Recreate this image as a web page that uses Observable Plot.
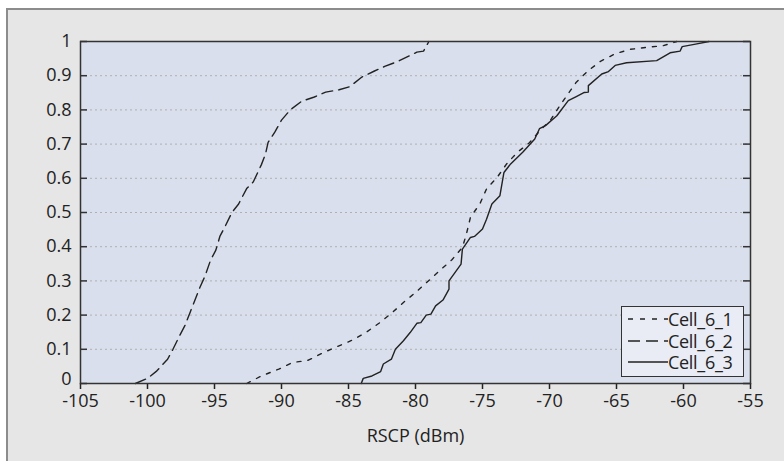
<!DOCTYPE html>
<html><head><meta charset="utf-8">
<script src="https://cdn.jsdelivr.net/npm/d3@7"></script>
<script src="https://cdn.jsdelivr.net/npm/@observablehq/plot@0.6"></script>
<style>
body{margin:0;background:#fff;width:784px;height:461px;overflow:hidden;position:relative;font-family:"Open Sans",sans-serif;}
#panel{position:absolute;left:6px;top:8px;width:778px;height:453px;background:#e6e6e6;border-left:2px solid #8c8c8c;border-top:2px solid #8c8c8c;box-sizing:border-box;}
#chart{position:absolute;left:0;top:0;}
#chart svg text{font-size:18px;font-family:"Open Sans",sans-serif;}
#legend{position:absolute;left:621px;top:306px;width:123px;height:71px;box-sizing:border-box;border:1.5px solid #333;background:#e9ecf4;}
.row{position:absolute;left:0;height:22px;display:flex;align-items:center;font-size:18px;letter-spacing:-0.3px;color:#222;line-height:22px;}
.row svg{margin-left:6px;margin-right:0;}
</style></head>
<body>
<div id="panel"></div>
<div id="chart"></div>
<div id="legend"></div>
<script>
const seriesNames = ["Cell_6_1", "Cell_6_2", "Cell_6_3"];
const xTicks = [-105, -100, -95, -90, -85, -80, -75, -70, -65, -60, -55];
const yTicks = [0, 0.1, 0.2, 0.3, 0.4, 0.5, 0.6, 0.7, 0.8, 0.9, 1];

const cell1X = [-92.6, -91.5, -90.2, -89.2, -88.0, -87.0, -85.9, -84.7, -83.7, -82.7, -81.8, -80.9, -80.0, -79.15, -78.2, -77.3, -76.5, -76.2, -75.9, -75.2, -74.7, -73.9, -73.2, -72.4, -71.5, -70.7, -69.95, -69.3, -68.7, -68.0, -67.1, -66.2, -65.1, -64.0, -62.7, -61.5, -60.5];
const cell1Y = [0.0, 0.022, 0.042, 0.061, 0.068, 0.088, 0.107, 0.127, 0.149, 0.177, 0.205, 0.237, 0.266, 0.296, 0.33, 0.361, 0.398, 0.437, 0.486, 0.525, 0.569, 0.603, 0.642, 0.676, 0.704, 0.74, 0.769, 0.808, 0.842, 0.881, 0.915, 0.942, 0.964, 0.977, 0.983, 0.988, 1.0];

const cell2X = [-100.9, -100.0, -99.3, -98.5, -98.1, -97.6, -97.2, -96.8, -96.5, -96.1, -95.7, -95.3, -94.9, -94.6, -94.2, -93.7, -93.2, -92.6, -92.1, -91.5, -91.2, -91.0, -90.5, -90.0, -89.35, -88.5, -87.6, -86.7, -85.7, -84.9, -84.0, -83.1, -82.3, -81.3, -80.4, -79.9, -79.4, -79.0];
const cell2Y = [0.0, 0.015, 0.037, 0.071, 0.10, 0.14, 0.17, 0.21, 0.24, 0.28, 0.315, 0.36, 0.39, 0.43, 0.46, 0.50, 0.525, 0.57, 0.59, 0.64, 0.67, 0.705, 0.735, 0.77, 0.80, 0.825, 0.837, 0.852, 0.859, 0.868, 0.896, 0.913, 0.927, 0.942, 0.959, 0.969, 0.972, 1.0];

const cell3X = [-84.05, -83.9, -83.25, -82.6, -82.4, -81.8, -81.5, -80.9, -80.4, -79.9, -79.6, -79.2, -78.85, -78.5, -77.95, -77.5, -77.5, -76.6, -76.5, -75.9, -75.6, -75.0, -74.7, -74.3, -73.7, -73.4, -72.9, -72.0, -71.1, -70.75, -70.3, -69.45, -68.6, -68.0, -67.4, -67.1, -67.1, -66.1, -65.6, -65.1, -64.25, -62.0, -61.0, -60.25, -60.1, -59.0, -58.1];
const cell3Y = [0.0, 0.015, 0.022, 0.035, 0.057, 0.071, 0.10, 0.125, 0.149, 0.176, 0.178, 0.20, 0.203, 0.227, 0.244, 0.276, 0.30, 0.349, 0.393, 0.427, 0.43, 0.452, 0.48, 0.525, 0.549, 0.617, 0.642, 0.676, 0.715, 0.745, 0.754, 0.783, 0.827, 0.839, 0.851, 0.852, 0.871, 0.905, 0.912, 0.93, 0.938, 0.944, 0.967, 0.972, 0.985, 0.993, 1.0];

const dashes = ["4,7", "11,6", null];
const toRows = (xs, ys) => xs.map((x, i) => ({x, y: ys[i]}));
const series = [toRows(cell1X, cell1Y), toRows(cell2X, cell2Y), toRows(cell3X, cell3Y)];

const W = 784, H = 461, ML = 80, MR = 34, MT = 41, MB = 78;
const plotW = W - ML - MR;

const chart = Plot.plot({
  width: W, height: H,
  marginLeft: ML, marginRight: MR, marginTop: MT, marginBottom: MB,
  style: {background: "transparent", fontFamily: "'Open Sans', sans-serif", fontSize: "18px", color: "#222"},
  x: {domain: [-105, -55]},
  y: {domain: [0, 1]},
  marks: [
    Plot.frame({fill: "#d9dfec"}),
    Plot.gridY(yTicks.slice(1, -1), {stroke: "#b0b0b0", strokeOpacity: 1, strokeDasharray: "2,3"}),
    ...series.map((s, i) => Plot.line(s, {x: "x", y: "y", stroke: "#222", strokeWidth: 1.4, strokeDasharray: dashes[i]})),
    Plot.tickY(yTicks, {y: d => d, insetRight: plotW - 7, stroke: "#333", strokeWidth: 1.5}),
    Plot.tickY(yTicks, {y: d => d, insetLeft: plotW - 7, stroke: "#333", strokeWidth: 1.5}),
    Plot.axisY(yTicks.slice(1), {tickSize: 0, tickPadding: 9, tickFormat: d => String(d), label: null}),
    Plot.axisY(yTicks.slice(0, 1), {tickSize: 0, tickPadding: 9, dy: -4, tickFormat: d => String(d), label: null}),
    Plot.axisX(xTicks, {tickSize: 6, tickPadding: 5, tickFormat: d => String(d), strokeWidth: 1.5, label: null}),
    Plot.axisX({tickSize: 0, ticks: [], label: "RSCP (dBm)", labelAnchor: "center", labelOffset: 58, labelArrow: "none"}),
    Plot.frame({stroke: "#333", strokeWidth: 1.5})
  ]
});
document.getElementById("chart").appendChild(chart);

const legend = document.getElementById("legend");
seriesNames.forEach((name, i) => {
  const row = document.createElement("div");
  row.className = "row";
  row.style.top = (1 + i * 21.7) + "px";
  row.innerHTML = `<svg width="40" height="22"><line x1="0" x2="40" y1="11" y2="11" stroke="#222" stroke-width="1.3" ${dashes[i] ? `stroke-dasharray="${i === 0 ? "5,7" : "12,6"}"` : ""}/></svg><span>${name}</span>`;
  legend.appendChild(row);
});
</script>
</body></html>
